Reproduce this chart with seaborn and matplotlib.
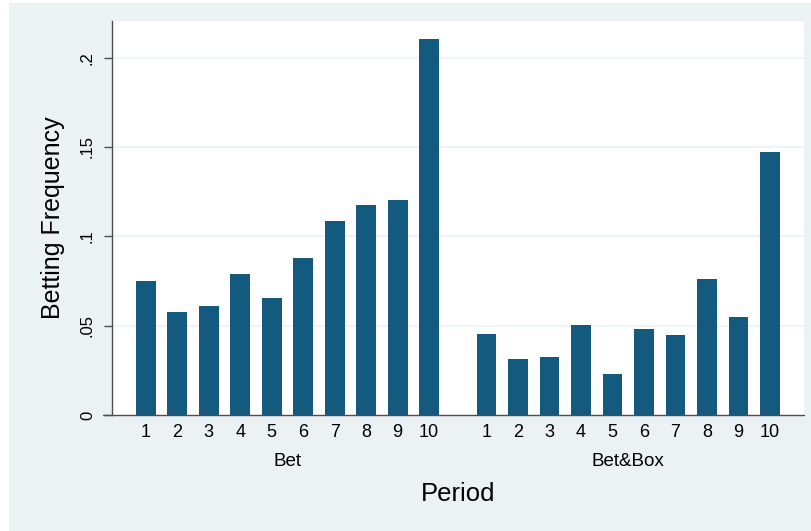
import numpy as np
import pandas as pd
import matplotlib
matplotlib.use("Agg")
import matplotlib.pyplot as plt
import matplotlib.transforms as mtransforms
from matplotlib.patches import Rectangle
import seaborn as sns

# values
periods = [1, 2, 3, 4, 5, 6, 7, 8, 9, 10]
treatments = ["Bet", "Bet&Box"]
bet = [0.0748, 0.0579, 0.0610, 0.0789, 0.0655, 0.0879, 0.1086, 0.1175, 0.1205, 0.2106]
bet_box = [0.0453, 0.0313, 0.0327, 0.0504, 0.0228, 0.0481, 0.0448, 0.0759, 0.0548, 0.1472]
y_ticks = [0, 0.05, 0.10, 0.15, 0.20]
y_tick_labels = ["0", ".05", ".1", ".15", ".2"]

BAR_COLOR = "#145A7E"
BG_COLOR = "#EAF2F3"
AXIS_COLOR = "#4d4d4d"
GROUP_GAP = 0.82  # extra space between the two treatment groups

# build long table; x position keeps the two groups apart
rows = []
for g, (name, vals) in enumerate(zip(treatments, [bet, bet_box])):
    for i, (p, v) in enumerate(zip(periods, vals)):
        rows.append({"treatment": name, "period": p,
                     "pos": i + g * (len(periods) + GROUP_GAP), "freq": v})
df = pd.DataFrame(rows)

sns.set_theme(style="white")
plt.rcParams["font.family"] = ["Liberation Sans", "DejaVu Sans"]

fig = plt.figure(figsize=(8.12, 5.31), dpi=100)
fig.patch.set_facecolor("white")
fig.patches.append(Rectangle((9 / 812, 0), 1, 1 - 3 / 531, transform=fig.transFigure,
                             facecolor=BG_COLOR, edgecolor="none", zorder=-10))

ax = fig.add_axes([112 / 812, 116 / 531, 692 / 812, 394 / 531])
ax.set_facecolor("white")

# light gridlines behind bars
for t in y_ticks[1:]:
    ax.axhline(t, color=BG_COLOR, lw=1.2, zorder=0)

sns.barplot(data=df, x="pos", y="freq", native_scale=True, width=0.63,
            color=BAR_COLOR, saturation=1, errorbar=None, linewidth=0, ax=ax, zorder=2)

ax.set_xlim(-1.07, df["pos"].max() + 1.08)
ax.set_ylim(0, 0.2205)

# x ticks: period numbers under each bar
ax.set_xticks(df["pos"])
ax.set_xticklabels(df["period"].astype(str), fontsize=13, color="black")
ax.tick_params(axis="x", length=0, pad=6.5)

ax.set_yticks(y_ticks)
ax.set_yticklabels(y_tick_labels, fontsize=12, color="black", rotation=90, va="center")
ax.tick_params(axis="y", direction="out", length=5.8, width=1, color=AXIS_COLOR, pad=6.5, left=True)

for s in ["top", "right", "bottom"]:
    ax.spines[s].set_visible(False)
ax.spines["left"].set_color(AXIS_COLOR)
ax.spines["left"].set_linewidth(1)
# baseline, reaching slightly left of the y axis like the original
ax.axhline(0, xmin=-9 / 692, xmax=1, color=AXIS_COLOR, lw=1, clip_on=False, zorder=3)

# group labels under tick labels
trans = mtransforms.blended_transform_factory(ax.transData, fig.transFigure)
for name in treatments:
    sub = df[df["treatment"] == name]
    cx = (sub["pos"].min() + sub["pos"].max()) / 2
    ax.text(cx, 1 - 461 / 531, name, transform=trans, ha="center", va="center",
            fontsize=13.5, color="black")

ax.set_xlabel("Period", fontsize=18.5, color="black")
ax.xaxis.set_label_coords(0.5, (415 - 494) / 394)
ax.xaxis.label.set_va("center")
ax.set_ylabel("Betting Frequency", fontsize=18, color="black")
ax.yaxis.set_label_coords((53 - 112) / 692, 0.5)
ax.yaxis.label.set_va("center")
ax.yaxis.label.set_ha("center")

fig.savefig("out.png", dpi=100, facecolor=fig.get_facecolor())
